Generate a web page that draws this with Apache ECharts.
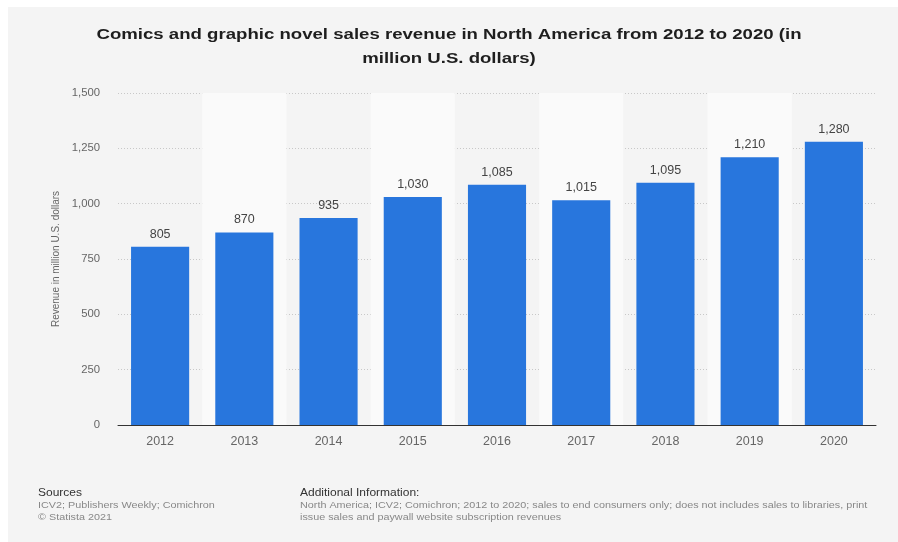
<!DOCTYPE html>
<html>
<head>
<meta charset="utf-8">
<script src="https://cdn.jsdelivr.net/npm/echarts@6/dist/echarts.min.js"></script>
<style>
  html, body { margin: 0; padding: 0; background: #ffffff; }
  #frame { position: absolute; left: 8px; top: 7px; width: 890px; height: 535px; background: #f4f4f4; }
  #chart { position: absolute; left: 0; top: 0; width: 898px; height: 542px; }
</style>
</head>
<body>
<div id="frame"></div>
<div id="chart"></div>
<script>
// Annual comics and graphic novel revenue, North America (million U.S. dollars)
const years = ['2012', '2013', '2014', '2015', '2016', '2017', '2018', '2019', '2020'];
const revenue = [805, 870, 935, 1030, 1085, 1015, 1095, 1210, 1280];
const yTicks = [0, 250, 500, 750, 1000, 1250, 1500];

const fmt = v => String(v).replace(/\B(?=(\d{3})+(?!\d))/g, ',');
const FONT = '"Liberation Sans", Arial, Helvetica, sans-serif';
const WIDE = 1.2; // horizontal stretch applied to the title and footer text

const chart = echarts.init(document.getElementById('chart'), null, { renderer: 'canvas' });
chart.setOption({
  backgroundColor: 'transparent',
  animation: false,
  textStyle: { fontFamily: FONT },
  grid: { left: 118, right: 22, top: 93, bottom: 117 },
  xAxis: {
    type: 'category',
    data: years,
    axisTick: { show: false },
    axisLine: { lineStyle: { color: '#333333', width: 1 } },
    axisLabel: { color: '#666666', fontSize: 12.5, margin: 10, fontFamily: FONT },
    splitArea: { show: true, areaStyle: { color: ['rgba(0,0,0,0)', '#fafafa'] } }
  },
  yAxis: {
    type: 'value',
    min: yTicks[0],
    max: yTicks[yTicks.length - 1],
    interval: 250,
    name: 'Revenue in million U.S. dollars',
    nameLocation: 'middle',
    nameGap: 57,
    nameTextStyle: { color: '#666666', fontSize: 10, fontFamily: FONT },
    axisLine: { show: false },
    axisTick: { show: false },
    axisLabel: { color: '#666666', fontSize: 11.3, margin: 18, fontFamily: FONT, formatter: v => fmt(v) },
    splitLine: { lineStyle: { color: '#c8c8c8', type: [1, 2], width: 1 } }
  },
  series: [{
    type: 'bar',
    data: revenue,
    barWidth: '69%',
    itemStyle: { color: '#2876dd' },
    label: {
      show: true,
      position: 'top',
      distance: 6,
      color: '#444444',
      fontSize: 12.5,
      fontFamily: FONT,
      formatter: p => fmt(p.value)
    }
  }],
  graphic: [
    {
      type: 'text', x: 449, y: 23, scaleX: WIDE,
      style: {
        text: 'Comics and graphic novel sales revenue in North America from 2012 to 2020 (in\nmillion U.S. dollars)',
        fontSize: 15.5, fontWeight: 'bold', lineHeight: 24, fill: '#1e1e1e', fontFamily: FONT,
        align: 'center', verticalAlign: 'top'
      }
    },
    { type: 'text', x: 38, y: 488, scaleX: WIDE, style: { text: 'Sources', fontSize: 10, fill: '#333333', fontFamily: FONT } },
    { type: 'text', x: 38, y: 500, scaleX: WIDE, style: { text: 'ICV2; Publishers Weekly; Comichron\n© Statista 2021', fontSize: 9, lineHeight: 12, fill: '#888888', fontFamily: FONT } },
    { type: 'text', x: 300, y: 488, scaleX: WIDE, style: { text: 'Additional Information:', fontSize: 10, fill: '#333333', fontFamily: FONT } },
    { type: 'text', x: 300, y: 500, scaleX: WIDE, style: { text: 'North America; ICV2; Comichron; 2012 to 2020; sales to end consumers only; does not includes sales to libraries, print\nissue sales and paywall website subscription revenues', fontSize: 9, lineHeight: 12, fill: '#888888', fontFamily: FONT } }
  ]
});
</script>
</body>
</html>
